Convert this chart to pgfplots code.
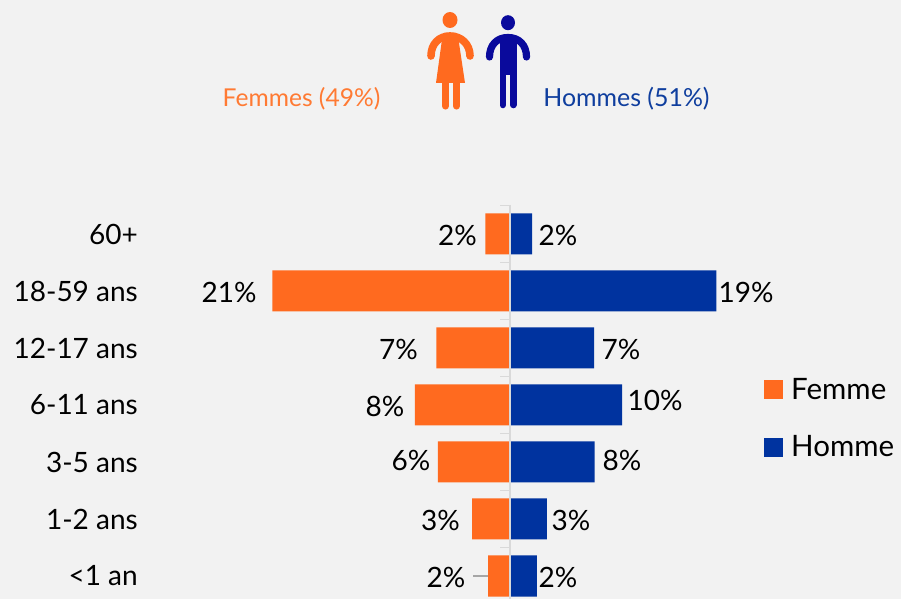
\documentclass[border=0pt]{standalone}
\usepackage{fontspec}
\setmainfont{Lato}
\usepackage{pgfplots}
\pgfplotsset{compat=1.18}
\definecolor{bg}{HTML}{F2F2F2}
\definecolor{fem}{HTML}{FF6A1F}
\definecolor{hom}{HTML}{00339F}
\definecolor{man}{HTML}{0A0A9C}
\definecolor{femtxt}{HTML}{FF7A33}
\definecolor{homtxt}{HTML}{0F3E9E}
\definecolor{axisgrey}{HTML}{D9D9D9}
\definecolor{leader}{HTML}{A6A6A6}

% share of each age group, in percent, bottom row first
\pgfplotstableread{
y  f     h
0  -2.0  2.45
1  -3.45 3.35
2  -6.55 7.7
3  -8.65 10.2
4  -6.7  7.65
5  -21.6 18.75
6  -2.25 2.0
}\ages

\begin{document}
\begin{tikzpicture}[x=1pt,y=1pt]
\useasboundingbox (0,0) rectangle (901,599);
\fill[bg] (0,0) rectangle (901,599);

\begin{axis}[
    at={(148pt,0pt)}, anchor=south west,
    scale only axis, width=753pt, height=599pt,
    xmin=-32.909, xmax=35.545,
    ymin=-0.4035, ymax=10.105,
    axis line style={draw=none},
    xtick=\empty,
    ytick={0,1,2,3,4,5,6},
    yticklabels={<1 an,1-2 ans,3-5 ans,6-11 ans,12-17 ans,18-59 ans,60+},
    yticklabel style={anchor=east, inner sep=0pt, xshift=-10pt, font=\fontsize{28}{30}\selectfont},
    major tick length=0pt,
    tick style={draw=none},
    clip=false,
    xbar, bar width=41pt, bar shift=0pt,
    legend style={
      draw=none, fill=none, font=\fontsize{29.5}{32}\selectfont,
      at={(616pt,223pt)}, anchor=north west,
      inner sep=0pt, row sep=31pt,
    },
    legend cell align=left,
    % the empty path widens the image's box, for the gap before the text
    legend image code/.code={\fill[#1] (0pt,-9.5pt) rectangle (19pt,9.5pt); \path (25pt,0pt);},
  ]
  \addplot[draw=none, fill=fem] table[x=f, y=y] {\ages};
  \addplot[draw=none, fill=hom] table[x=h, y=y] {\ages};
  \legend{Femme,Homme}
\end{axis}

% everything below is placed in image pixels, y downwards
\begin{scope}[yscale=-1, shift={(0,-599)}]
  % centre axis and ticks
  \draw[axisgrey, line width=1.8pt] (510,205) -- (510,599);
  \foreach \yy in {205.5,262.5,319.5,376.5,433.5,490.5,547.5}
    \draw[axisgrey, line width=1.6pt] (500,\yy) -- (510,\yy);
  \draw[leader, line width=1.4pt] (473,576) -- (488,576);

  % value labels
  \begin{scope}[every node/.style={inner sep=0pt, font=\fontsize{28}{30}\selectfont}]
    \node at (457.5,235) {2\%};
    \node at (229,292) {21\%};
    \node at (398.5,349) {7\%};
    \node at (385,406) {8\%};
    \node at (411,460) {6\%};
    \node at (440.5,520) {3\%};
    \node at (446,577) {2\%};
    \node at (558,235) {2\%};
    \node at (746,292) {19\%};
    \node at (621,349) {7\%};
    \node at (655,400) {10\%};
    \node at (622,460) {8\%};
    \node at (571,520) {3\%};
    \node at (558,577) {2\%};
  \end{scope}

  % headers
  \node[femtxt, inner sep=0pt, font=\fontsize{24.6}{28}\selectfont] at (301.5,99) {Femmes (49\%)};
  \node[homtxt, inner sep=0pt, font=\fontsize{24.9}{28}\selectfont] at (626.5,99) {Hommes (51\%)};

  % woman
  \fill[fem] (450,20) ellipse (7.5 and 8);
  \draw[fem, line width=7.6pt, line cap=round] (431,56) .. controls (431,44) and (439,36) .. (450,36) .. controls (461,36) and (470,44) .. (470,56);
  \fill[fem] (444,33) -- (456,33) -- (459,43) -- (465,83) -- (436,83) -- (441.5,43) -- cycle;
  \draw[fem, line width=7.2pt, line cap=round] (445.5,80) -- (445.5,106);
  \draw[fem, line width=7.2pt, line cap=round] (456.5,80) -- (456.5,106);

  % man
  \fill[man] (508,22.7) ellipse (7 and 7.5);
  \draw[man, line width=7.2pt, line cap=round] (489.5,57) .. controls (489.5,45) and (497,37.5) .. (508,37.5) .. controls (519,37.5) and (526.5,45) .. (526.5,57);
  \fill[man] (499.5,36) rectangle (516.5,75);
  \draw[man, line width=6.6pt, line cap=round] (502.8,70) -- (502.8,105);
  \draw[man, line width=6.6pt, line cap=round] (513.2,70) -- (513.2,105);
\end{scope}
\end{tikzpicture}
\end{document}
